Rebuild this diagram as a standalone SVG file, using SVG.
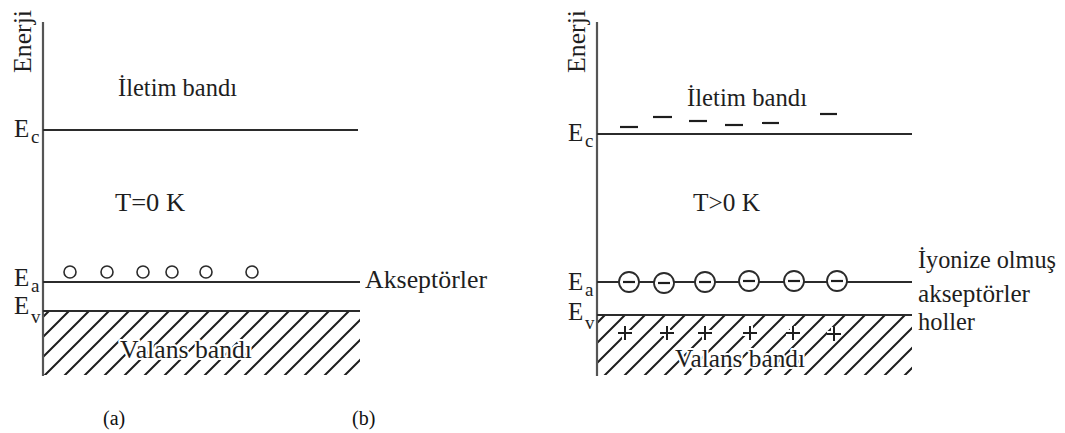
<svg xmlns="http://www.w3.org/2000/svg" width="1065" height="433" viewBox="0 0 1065 433" font-family="'Liberation Serif', 'DejaVu Serif', serif">
  <style>
    .ln { stroke: #2b2b2b; stroke-width: 2; fill: none; }
    .ax { stroke: #555; stroke-width: 2.2; fill: none; }
    .t { font-family: 'Liberation Serif', 'DejaVu Serif', serif; font-size: 25px; fill: #1e1e1e; }
    .sub { font-family: 'Liberation Serif', 'DejaVu Serif', serif; font-size: 19px; fill: #1e1e1e; }
    .halo { paint-order: stroke; stroke: #fff; stroke-width: 4px; stroke-linejoin: round; }
    .cap { font-family: 'Liberation Serif', 'DejaVu Serif', serif; font-size: 20px; fill: #111; }
    .dot { fill: #fff; stroke: #2b2b2b; stroke-width: 1.6; }
    .ion { fill: #fff; stroke: #2b2b2b; stroke-width: 1.8; }
    .dash { stroke: #1e1e1e; stroke-width: 2.2; }
    .plus { stroke: #1e1e1e; stroke-width: 2; }
    .plus-bg { stroke: #fff; stroke-width: 6; }
  </style>
  <defs>
    <pattern id="hatch" patternUnits="userSpaceOnUse" width="20" height="20">
      <path d="M-5,5 L5,-5 M0,20 L20,0 M15,25 L25,15" stroke="#1e1e1e" stroke-width="2"/>
    </pattern>
    <g id="plus-mark">
      <path class="plus-bg" d="M-7,0 H7 M0,-7 V7"/>
      <path class="plus" d="M-7,0 H7 M0,-7 V7"/>
    </g>
  </defs>
  <rect width="1065" height="433" fill="#fff"/>

  <!-- left panel: T = 0 K -->
  <g id="panel-a">
    <rect id="a-valence-fill" x="44" y="312" width="316" height="63" fill="url(#hatch)"/>
    <g id="a-axis">
      <line class="ax" x1="43" y1="22" x2="43" y2="376"/>
      <text class="t" transform="translate(31,73) rotate(-90)" textLength="63" lengthAdjust="spacingAndGlyphs">Enerji</text>
    </g>
    <g id="a-conduction">
      <line class="ln" x1="43" y1="130" x2="358" y2="130"/>
      <text class="t" x="14" y="137">E</text><text class="sub" x="31" y="143">c</text>
      <text class="t" x="118" y="96" textLength="119" lengthAdjust="spacingAndGlyphs">İletim bandı</text>
    </g>
    <text id="a-temp" class="t" x="115" y="211" textLength="70" lengthAdjust="spacingAndGlyphs">T=0 K</text>
    <g id="a-acceptor">
      <line class="ln" x1="43" y1="282" x2="360" y2="282"/>
      <text class="t" x="14" y="286">E</text><text class="sub" x="31" y="292">a</text>
      <circle class="dot" cx="70" cy="272" r="6"/>
      <circle class="dot" cx="107" cy="272" r="6"/>
      <circle class="dot" cx="143" cy="272" r="6"/>
      <circle class="dot" cx="172" cy="272" r="6"/>
      <circle class="dot" cx="206" cy="272" r="6"/>
      <circle class="dot" cx="252" cy="272" r="6"/>
      <text class="t" x="365" y="288" textLength="122" lengthAdjust="spacingAndGlyphs">Akseptörler</text>
    </g>
    <g id="a-valence">
      <line class="ln" x1="43" y1="311" x2="360" y2="311"/>
      <text class="t" x="14" y="314">E</text><text class="sub" x="31" y="323">v</text>
      <text class="t halo" x="120" y="358" textLength="132" lengthAdjust="spacingAndGlyphs">Valans bandı</text>
    </g>
    <text id="a-caption" class="cap" x="103" y="425">(a)</text>
  </g>

  <!-- right panel: T > 0 K -->
  <g id="panel-b">
    <rect id="b-valence-fill" x="598" y="316" width="314" height="59" fill="url(#hatch)"/>
    <g id="b-axis">
      <line class="ax" x1="597" y1="22" x2="597" y2="376"/>
      <text class="t" transform="translate(585,73) rotate(-90)" textLength="63" lengthAdjust="spacingAndGlyphs">Enerji</text>
    </g>
    <g id="b-conduction">
      <line class="ln" x1="597" y1="134" x2="912" y2="134"/>
      <text class="t" x="568" y="141">E</text><text class="sub" x="585" y="147">c</text>
      <text class="t" x="687" y="106" textLength="120" lengthAdjust="spacingAndGlyphs">İletim bandı</text>
      <line class="dash" x1="620" y1="127" x2="638" y2="127"/>
      <line class="dash" x1="653" y1="117" x2="672" y2="117"/>
      <line class="dash" x1="689" y1="121" x2="707" y2="121"/>
      <line class="dash" x1="725" y1="125" x2="743" y2="125"/>
      <line class="dash" x1="762" y1="123" x2="779" y2="123"/>
      <line class="dash" x1="820" y1="114" x2="837" y2="114"/>
    </g>
    <text id="b-temp" class="t" x="693" y="211" textLength="67" lengthAdjust="spacingAndGlyphs">T&gt;0 K</text>
    <g id="b-acceptor">
      <line class="ln" x1="597" y1="282" x2="912" y2="282"/>
      <text class="t" x="568" y="290">E</text><text class="sub" x="585" y="296">a</text>
      <g id="b-ions">
        <circle class="ion" cx="629" cy="282" r="10"/><line class="dash" x1="623" y1="282" x2="635" y2="282"/>
        <circle class="ion" cx="664" cy="283" r="10"/><line class="dash" x1="658" y1="283" x2="670" y2="283"/>
        <circle class="ion" cx="705" cy="282" r="10"/><line class="dash" x1="699" y1="282" x2="711" y2="282"/>
        <circle class="ion" cx="749" cy="281" r="10"/><line class="dash" x1="743" y1="281" x2="755" y2="281"/>
        <circle class="ion" cx="794" cy="281" r="10"/><line class="dash" x1="788" y1="281" x2="800" y2="281"/>
        <circle class="ion" cx="837" cy="281" r="10"/><line class="dash" x1="831" y1="281" x2="843" y2="281"/>
      </g>
      <text class="t" x="918" y="268" textLength="138" lengthAdjust="spacingAndGlyphs">İyonize olmuş</text>
      <text class="t" x="918" y="302" textLength="112" lengthAdjust="spacingAndGlyphs">akseptörler</text>
    </g>
    <g id="b-valence">
      <line class="ln" x1="597" y1="315" x2="912" y2="315"/>
      <text class="t" x="568" y="320">E</text><text class="sub" x="585" y="329">v</text>
      <g id="b-holes">
        <use href="#plus-mark" x="625" y="333"/>
        <use href="#plus-mark" x="667" y="333"/>
        <use href="#plus-mark" x="705" y="333"/>
        <use href="#plus-mark" x="750" y="333"/>
        <use href="#plus-mark" x="793" y="333"/>
        <use href="#plus-mark" x="834" y="334"/>
      </g>
      <text class="t halo" x="675" y="367" textLength="130" lengthAdjust="spacingAndGlyphs">Valans bandı</text>
      <text class="t" x="918" y="330" textLength="57" lengthAdjust="spacingAndGlyphs">holler</text>
    </g>
    <text id="b-caption" class="cap" x="352" y="425">(b)</text>
  </g>
</svg>
